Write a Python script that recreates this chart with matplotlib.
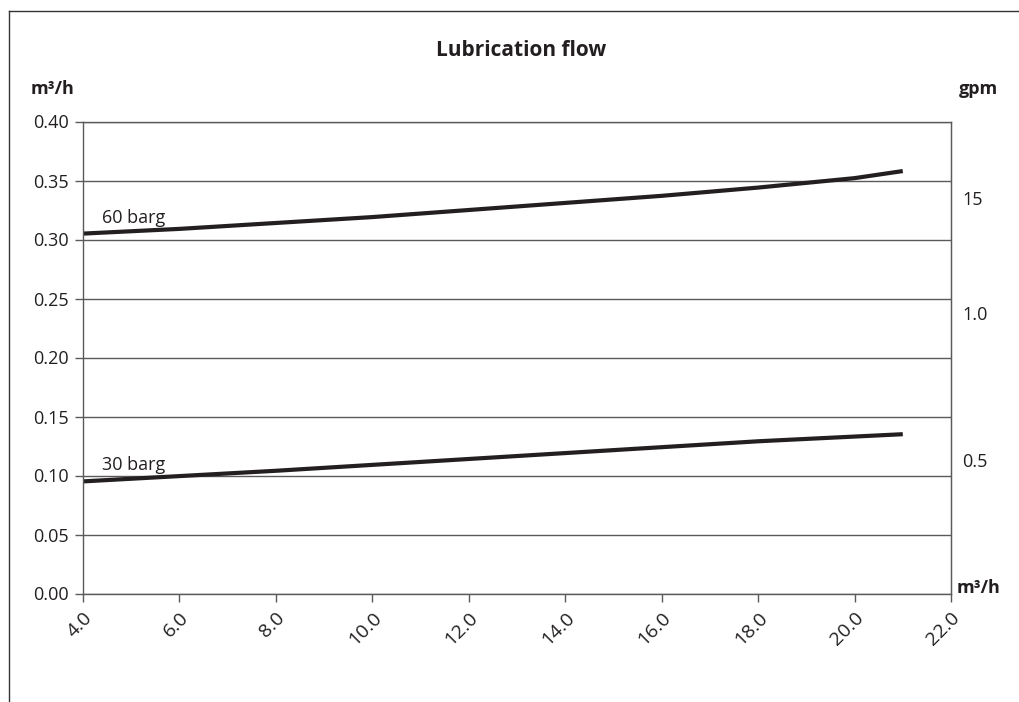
import matplotlib.pyplot as plt
import matplotlib.transforms as mtransforms
from matplotlib.lines import Line2D

plt.rcParams["font.family"] = ["Open Sans", "DejaVu Sans"]

flow_x = [4.0, 6.0, 8.0, 10.0, 12.0, 14.0, 16.0, 18.0, 20.0, 21.0]
lub_60 = [0.305, 0.309, 0.314, 0.319, 0.325, 0.331, 0.337, 0.344, 0.352, 0.358]
lub_30 = [0.095, 0.0995, 0.104, 0.109, 0.114, 0.119, 0.124, 0.129, 0.133, 0.135]

x_ticks = [4.0, 6.0, 8.0, 10.0, 12.0, 14.0, 16.0, 18.0, 20.0, 22.0]
y_ticks = [0.00, 0.05, 0.10, 0.15, 0.20, 0.25, 0.30, 0.35, 0.40]
gpm_pos = [0.113, 0.238, 0.335]
gpm_labels = ["0.5", "1.0", "15"]

grid_c = "#5a5a5a"
text_c = "#231f20"

fig = plt.figure(figsize=(10.19, 7.02), dpi=100)
ax = fig.add_axes([83 / 1019, 1 - 593.5 / 702, 868 / 1019, 472 / 702])

ax.plot(flow_x, lub_60, color=text_c, lw=3.0, solid_capstyle="butt")
ax.plot(flow_x, lub_30, color=text_c, lw=3.0, solid_capstyle="butt")
ax.text(4.4, 0.311, "60 barg", fontsize=13, color=text_c, va="bottom")
ax.text(4.4, 0.101, "30 barg", fontsize=13, color=text_c, va="bottom")

ax.set_xlim(4, 22)
ax.set_ylim(0, 0.40)
ax.set_xticks(x_ticks)
ax.set_xticklabels([f"{v:.1f}" for v in x_ticks], rotation=45, ha="right",
                   rotation_mode="anchor", fontsize=14)
shift = mtransforms.ScaledTranslation(9 / 100, 0, fig.dpi_scale_trans)
for lbl in ax.get_xticklabels():
    lbl.set_transform(lbl.get_transform() + shift)
ax.set_yticks(y_ticks)
ax.set_yticklabels([f"{v:.2f}" for v in y_ticks], fontsize=13)
ax.tick_params(axis="both", direction="out", length=6, width=1, color=grid_c,
               labelcolor=text_c, pad=4)
ax.tick_params(axis="x", pad=5)
ax.yaxis.grid(True, color=grid_c, lw=1)
ax.set_axisbelow(True)
for side in ["left", "right", "bottom", "top"]:
    ax.spines[side].set_color(grid_c)
    ax.spines[side].set_linewidth(1)

ax2 = ax.twinx()
ax2.set_ylim(0, 0.40)
ax2.set_yticks(gpm_pos)
ax2.set_yticklabels(gpm_labels, fontsize=13, color=text_c)
ax2.tick_params(axis="y", length=0, pad=8)
ax2.spines["right"].set_color(grid_c)
for side in ["left", "top", "bottom"]:
    ax2.spines[side].set_visible(False)

fig.text(521 / 1019, 1 - 50 / 702, "Lubrication flow", fontsize=15,
         fontweight="bold", ha="center", va="center", color=text_c)
fig.text(31 / 1019, 1 - 89 / 702, "m³/h", fontsize=13, fontweight="bold",
         ha="left", va="center", color=text_c)
fig.text(959 / 1019, 1 - 89 / 702, "gpm", fontsize=13, fontweight="bold",
         ha="left", va="center", color=text_c)
fig.text(957 / 1019, 1 - 588 / 702, "m³/h", fontsize=13, fontweight="bold",
         ha="left", va="center", color=text_c)

# outer frame (cut off at right and bottom)
fig.add_artist(Line2D([9 / 1019, 9 / 1019], [0, 1 - 11 / 702],
                      transform=fig.transFigure, color="#333333", lw=1))
fig.add_artist(Line2D([9 / 1019, 1], [1 - 11 / 702, 1 - 11 / 702],
                      transform=fig.transFigure, color="#333333", lw=1))

fig.savefig("out.png", dpi=100)
